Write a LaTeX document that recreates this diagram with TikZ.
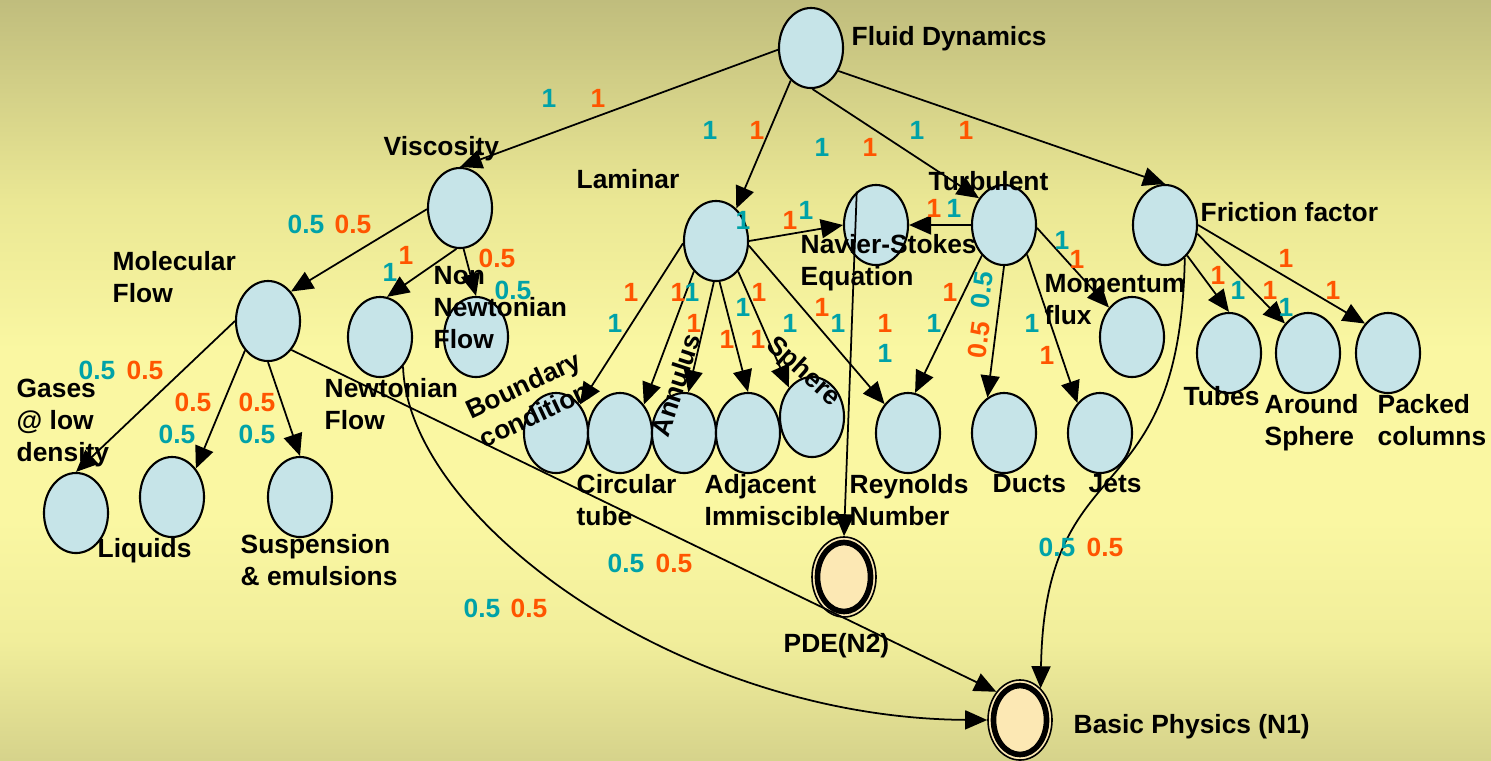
\documentclass[tikz,border=0pt]{standalone}
\usepackage{fontspec}
\setmainfont{Liberation Sans}
\usetikzlibrary{shapes.geometric,arrows.meta}

\definecolor{nodefill}{RGB}{198,228,232}
\definecolor{goalfill}{RGB}{252,232,180}
\definecolor{wteal}{RGB}{0,162,168}
\definecolor{worange}{RGB}{255,85,0}

% vertical background: olive at the top, pale yellow in the middle, darker at the foot
\pgfdeclareverticalshading{bgshade}{100bp}{%
  rgb(0bp)=(0.839,0.827,0.545);
  rgb(25bp)=(0.839,0.827,0.545);
  rgb(32.9bp)=(0.945,0.933,0.608);
  rgb(40.8bp)=(0.980,0.969,0.635);
  rgb(52bp)=(0.980,0.969,0.635);
  rgb(61.8bp)=(0.918,0.906,0.580);
  rgb(75bp)=(0.753,0.741,0.490);
  rgb(100bp)=(0.753,0.741,0.490)}

\begin{document}
\begin{tikzpicture}[x=0.01cm,y=-0.01cm,
  concept/.style={ellipse, draw=black, line width=0.6pt, fill=nodefill,
    minimum width=0.64cm, minimum height=0.8cm, inner sep=0pt},
  goal/.style={concept, fill=goalfill, line width=0.45pt},
  ring/.style={line width=1.6pt},
  link/.style={-{Triangle[length=0.22cm,width=0.19cm]}, line width=0.5pt},
  lbl/.style={font=\bfseries\fontsize{7.5}{9.1}\selectfont, align=left,
    anchor=north west, inner sep=0pt},
  rlbl/.style={lbl, anchor=center},
  wt/.style={font=\bfseries\fontsize{7.5}{9}\selectfont, text=wteal, inner sep=0pt},
  wo/.style={font=\bfseries\fontsize{7.5}{9}\selectfont, text=worange, inner sep=0pt}]

\useasboundingbox (0,0) rectangle (1491,760);
\shade[shading=bgshade] (0,0) rectangle (1491,760);

% ---- concept nodes ----
\node[concept] (FD) at (811,48) {};
\node[concept] (Visc) at (460,208) {};
\node[concept] (Mol) at (268,321) {};
\node[concept] (Newt) at (380,337) {};
\node[concept] (NonNewt) at (476,337) {};
\node[concept] (Gases) at (76,513) {};
\node[concept] (Liquids) at (172,497) {};
\node[concept] (Susp) at (300,497) {};
\node[concept] (Lam) at (716,241) {};
\node[concept] (NS) at (876,225) {};
\node[concept] (Turb) at (1004,225) {};
\node[concept] (Fric) at (1165,225) {};
\node[concept] (BC) at (556,433) {};
\node[concept] (CT) at (620,433) {};
\node[concept] (Ann) at (684,433) {};
\node[concept] (Adj) at (748,433) {};
\node[concept] (Sph) at (812,417) {};
\node[concept] (Rey) at (908,433) {};
\node[concept] (Ducts) at (1004,433) {};
\node[concept] (Jets) at (1100,433) {};
\node[concept] (Mom) at (1132,337) {};
\node[concept] (Tubes) at (1229,353) {};
\node[concept] (Around) at (1308,353) {};
\node[concept] (Packed) at (1388,353) {};

% ---- goal nodes with a heavy inner ring ----
\node[goal] (PDE) at (844,577) {};
\draw[ring] (PDE.center) ellipse [x radius=0.265cm, y radius=0.345cm];
\node[goal] (BP) at (1020,720) {};
\draw[ring] (BP.center) ellipse [x radius=0.265cm, y radius=0.345cm];

% ---- connectors ----
\draw[link] (FD.183) -- (Visc.north);
\draw[link] (FD.-122) -- (Lam.58);
\draw[link] (FD.-88) -- (Turb.133);
\draw[link] (FD.-40) -- (Fric.north);

\draw[link] (Visc.182) -- (Mol.52);
\draw[link] (Visc.-95) -- (Newt.80);
\draw[link] (Visc.-85) -- (NonNewt.north);

\draw[link] (Mol.west) -- (Gases.north);
\draw[link] (Mol.-128) -- (Liquids.50);
\draw[link] (Mol.south) -- (Susp.north);
\draw[link] (Mol.-51) -- (BP.130);
\draw[link] (Newt.-52) .. controls (408,520) and (680,718) .. (BP.west);

\draw[link] (Lam.east) -- (NS.west);
\draw[link] (Turb.west) -- (NS.east);
\draw[link] (NS.120) -- (PDE.north);

\draw[link] (Lam.-176) -- (BC.50);
\draw[link] (Lam.-126) -- (CT.50);
\draw[link] (Lam.-93) -- (Ann.84);
\draw[link] (Lam.-85) -- (Adj.north);
\draw[link] (Lam.-54) -- (Sph.128);
\draw[link] (Lam.-8) -- (Rey.129);

\draw[link] (Turb.-126) -- (Rey.80);
\draw[link] (Turb.south) -- (Ducts.115);
\draw[link] (Turb.-52) -- (Jets.127);
\draw[link] (Turb.-5) -- (Mom.128);

\draw[link] (Fric.-54) -- (Tubes.north);
\draw[link] (Fric.-15) -- (Around.128);
\draw[link] (Fric.east) -- (Packed.128);
\draw[link] (Fric.-59) .. controls (1180,520) and (1045,440) .. (BP.57);

% ---- node captions ----
\node[lbl] (FD-l) at (851,25.5) {Fluid Dynamics};
\node[lbl] (Visc-l) at (383,135.5) {Viscosity};
\node[lbl] (Lam-l) at (576,168.5) {Laminar};
\node[lbl] (Turb-l) at (928,170.5) {Turbulent};
\node[lbl] (Fric-l) at (1200,201.5) {Friction factor};
\node[lbl] (Mol-l) at (112,250.5) {Molecular\\Flow};
\node[lbl] (NonNewt-l) at (433,265.5) {Non\\Newtonian\\Flow};
\node[lbl] (Newt-l) at (324,377.5) {Newtonian\\Flow};
\node[lbl] (Gases-l) at (16,378.5) {Gases\\@ low\\density};
\node[lbl] (Liquids-l) at (97,537.5) {Liquids};
\node[lbl] (Susp-l) at (240,533.5) {Suspension\\\& emulsions};
\node[lbl] (NS-l) at (800,233.5) {Navier-Stokes\\Equation};
\node[lbl] (Mom-l) at (1044,273.5) {Momentum\\flux};
\node[lbl] (CT-l) at (576,473.5) {Circular\\tube};
\node[lbl] (Adj-l) at (704,473.5) {Adjacent\\Immiscible};
\node[lbl] (Rey-l) at (849,473.5) {Reynolds\\Number};
\node[lbl] (Ducts-l) at (992,473.5) {Ducts};
\node[lbl] (Jets-l) at (1088,473.5) {Jets};
\node[lbl] (Tubes-l) at (1183,385.5) {Tubes};
\node[lbl] (Around-l) at (1264,393.5) {Around\\Sphere};
\node[lbl] (Packed-l) at (1377,393.5) {Packed\\columns};
\node[lbl] (PDE-l) at (783,632.5) {PDE(N2)};
\node[lbl] (BP-l) at (1073,713.5) {Basic Physics (N1)};
\node[rlbl, rotate=25] (BC-l) at (530,399) {Boundary\\condition};
\node[rlbl, rotate=72] (Ann-l) at (676,385) {Annulus};
\node[rlbl, rotate=-42] (Sph-l) at (803,372) {Sphere};

% ---- weights ----
\foreach \p [count=\i] in {(549,98),(710,130),(822,147),(917,130),(390,272),
    (743,220),(806,210),(954,208),(615,323),(692,292),(743,307),(790,323),
    (838,323),(885,353),(934,323),(1032,323),(1062,240),(1238,290),(1286,307)}
  \node[wt] (ta\i) at \p {1};
\foreach \p [count=\i] in {(598,98),(757,130),(870,147),(966,130),(406,255),
    (790,220),(934,208),(631,292),(678,292),(694,323),(759,292),(727,339),
    (758,339),(822,307),(885,323),(950,292),(1047,355),(1077,259),(1218,275),
    (1270,290),(1286,258),(1333,290)}
  \node[wo] (oa\i) at \p {1};
\foreach \p [count=\i] in {(306,224),(513,290),(97,370),(177,434),(257,434),
    (626,563),(482,608),(1057,547)}
  \node[wt] (tb\i) at \p {0.5};
\foreach \p [count=\i] in {(353,224),(497,258),(145,370),(193,402),(257,402),
    (674,563),(529,608),(1105,547)}
  \node[wo] (ob\i) at \p {0.5};
\node[wt, rotate=82] (tr) at (982,290) {0.5};
\node[wo, rotate=82] (or) at (979,340) {0.5};

\end{tikzpicture}
\end{document}
